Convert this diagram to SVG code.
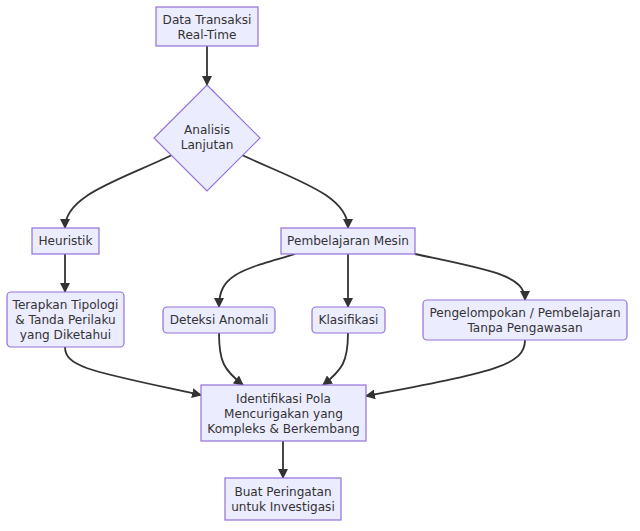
<svg xmlns="http://www.w3.org/2000/svg" width="640" height="531" viewBox="0 0 640 531">
<defs>
<style>
.node rect,.node polygon{fill:#ECECFF;stroke:#9370DB;stroke-width:1.2}
.node text{font-family:"DejaVu Sans",Verdana,sans-serif;font-size:12.1px;fill:#333;text-anchor:middle}
.edges path{fill:none;stroke:#333;stroke-width:1.8}
</style>
<marker id="arr" viewBox="0 0 10 10" refX="9" refY="5" markerWidth="10" markerHeight="10" markerUnits="userSpaceOnUse" orient="auto">
<path d="M0,0 L10,5 L0,10 z" fill="#333"/>
</marker>
</defs>
<rect width="640" height="531" fill="#fff"/>
<g class="edges">
<path d="M207,46 L207,85" marker-end="url(#arr)"/>
<path d="M172,155 C120,180 65,195 65,228" marker-end="url(#arr)"/>
<path d="M242,155 C295,180 348,195 348,228" marker-end="url(#arr)"/>
<path d="M65,254 L65,292" marker-end="url(#arr)"/>
<path d="M295,254 C240,270 219,275 219,307" marker-end="url(#arr)"/>
<path d="M348,254 L348,307" marker-end="url(#arr)"/>
<path d="M415,254 C490,270 525,275 525,300" marker-end="url(#arr)"/>
<path d="M65,347 C65,368 95,372 201,395" marker-end="url(#arr)"/>
<path d="M219,333 C219,362 224,370 243,385" marker-end="url(#arr)"/>
<path d="M348,333 C348,362 342,370 323,385" marker-end="url(#arr)"/>
<path d="M525,340 C525,365 495,372 366,396" marker-end="url(#arr)"/>
<path d="M283,441 L283,478" marker-end="url(#arr)"/>
</g>
<g id="n1" class="node"><rect x="156" y="7" width="102" height="39"/><text x="207" y="23.5">Data Transaksi</text><text x="207" y="38.5">Real-Time</text></g>
<g id="n2" class="node"><polygon points="207,85 260,138 207,191 154,138"/><text x="207" y="134">Analisis</text><text x="207" y="149">Lanjutan</text></g>
<g id="n3" class="node"><rect x="32" y="228" width="67" height="26"/><text x="65.5" y="245">Heuristik</text></g>
<g id="n4" class="node"><rect x="281" y="228" width="134" height="26"/><text x="348" y="245">Pembelajaran Mesin</text></g>
<g id="n5" class="node"><rect x="7" y="292" width="117" height="55" rx="4"/><text x="65.5" y="309">Terapkan Tipologi</text><text x="65.5" y="324">&amp; Tanda Perilaku</text><text x="65.5" y="339">yang Diketahui</text></g>
<g id="n6" class="node"><rect x="163" y="307" width="112" height="26" rx="4"/><text x="219" y="324">Deteksi Anomali</text></g>
<g id="n7" class="node"><rect x="312" y="307" width="73" height="26" rx="4"/><text x="348.5" y="324">Klasifikasi</text></g>
<g id="n8" class="node"><rect x="423" y="300" width="204" height="40" rx="4"/><text x="525" y="316.5">Pengelompokan / Pembelajaran</text><text x="525" y="331.5">Tanpa Pengawasan</text></g>
<g id="n9" class="node"><rect x="201" y="385" width="165" height="56"/><text x="283.5" y="403">Identifikasi Pola</text><text x="283.5" y="418">Mencurigakan yang</text><text x="283.5" y="433">Kompleks &amp; Berkembang</text></g>
<g id="n10" class="node"><rect x="225" y="478" width="116" height="42"/><text x="283" y="496">Buat Peringatan</text><text x="283" y="511">untuk Investigasi</text></g>
</svg>
